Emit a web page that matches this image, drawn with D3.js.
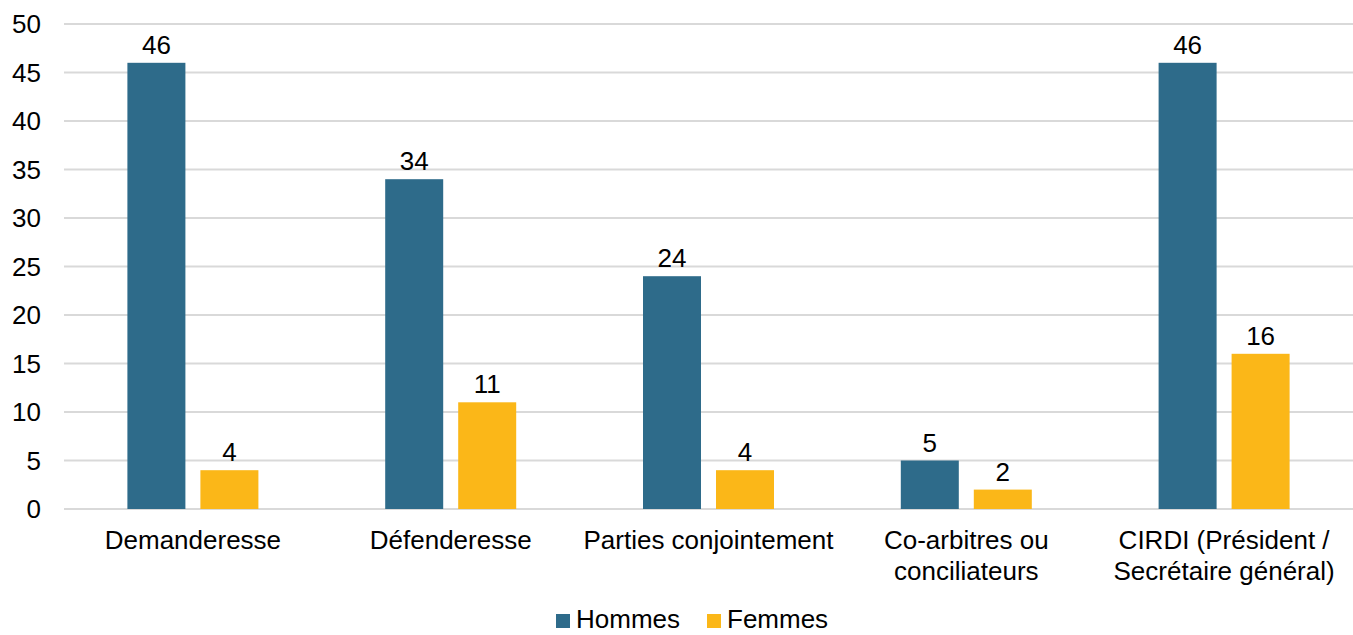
<!DOCTYPE html>
<html>
<head>
<meta charset="utf-8">
<script src="https://cdn.jsdelivr.net/npm/d3@7"></script>
<style>
	body { margin: 0; background: #fff; }
	text { font-family: "Liberation Sans", Arial, sans-serif; fill: #000; }
</style>
</head>
<body>
<div id="chart"></div>
<script>
let categories = [
	['Demanderesse'],
	['Défenderesse'],
	['Parties conjointement'],
	['Co-arbitres ou', 'conciliateurs'],
	['CIRDI (Président /', 'Secrétaire général)']
];
let seriesNames = ['Hommes', 'Femmes'];
let hommes = [46, 34, 24, 5, 46];
let femmes = [4, 11, 4, 2, 16];
let yTicks = [0, 5, 10, 15, 20, 25, 30, 35, 40, 45, 50];
let colors = ['#2e6b8a', '#fbb718'];

let width = 1353,
	height = 635;
let margin = { top: 24, right: 0, bottom: 126, left: 64 };
let fontSize = '26px';

let svg = d3.select('#chart').append('svg')
	.attr('width', width)
	.attr('height', height);

let x0 = d3.scaleBand()
	.domain(d3.range(categories.length))
	.range([margin.left, width - margin.right]);

// two bars per group, 58px wide with a 15px gap
let x1 = d3.scaleBand()
	.domain(seriesNames)
	.range([x0.bandwidth() / 2 - 65.5, x0.bandwidth() / 2 + 65.5])
	.paddingInner(15 / 73);

let y = d3.scaleLinear()
	.domain([0, 50])
	.range([height - margin.bottom, margin.top]);

// gridlines
svg.append('g')
	.selectAll('line')
	.data(yTicks)
	.enter()
	.append('line')
	.attr('x1', margin.left)
	.attr('x2', width - margin.right)
	.attr('y1', (d) => y(d))
	.attr('y2', (d) => y(d))
	.attr('stroke', '#d9d9d9')
	.attr('stroke-width', 2);

// y labels
svg.append('g')
	.selectAll('text')
	.data(yTicks)
	.enter()
	.append('text')
	.attr('x', 41)
	.attr('y', (d) => y(d))
	.attr('dy', '0.36em')
	.attr('text-anchor', 'end')
	.style('font-size', fontSize)
	.text((d) => d);

let groups = svg.append('g')
	.selectAll('g')
	.data(categories)
	.enter()
	.append('g')
	.attr('transform', (d, i) => 'translate(' + x0(i) + ',0)');

let rows = categories.map((c, i) => [
	{ key: 'Hommes', value: hommes[i] },
	{ key: 'Femmes', value: femmes[i] }
]);

groups.selectAll('rect')
	.data((d, i) => rows[i])
	.enter()
	.append('rect')
	.attr('x', (d) => x1(d.key))
	.attr('width', x1.bandwidth())
	.attr('y', (d) => y(d.value))
	.attr('height', (d) => y(0) - y(d.value))
	.attr('fill', (d, i) => colors[i]);

groups.selectAll('text.val')
	.data((d, i) => rows[i])
	.enter()
	.append('text')
	.attr('class', 'val')
	.attr('x', (d) => x1(d.key) + x1.bandwidth() / 2)
	.attr('y', (d) => y(d.value) - 9)
	.attr('text-anchor', 'middle')
	.style('font-size', fontSize)
	.text((d) => d.value);

// category labels
groups.append('text')
	.attr('x', x0.bandwidth() / 2)
	.attr('y', 549)
	.attr('text-anchor', 'middle')
	.style('font-size', fontSize)
	.selectAll('tspan')
	.data((d) => d)
	.enter()
	.append('tspan')
	.attr('x', x0.bandwidth() / 2)
	.attr('dy', (d, i) => (i == 0 ? 0 : 31))
	.text((d) => d);

// legend (kept a few px above the bottom edge so the text is not clipped)
let legend = svg.append('g');
let legendX = [556, 707];
seriesNames.forEach((name, i) => {
	legend.append('rect')
		.attr('x', legendX[i])
		.attr('y', 614)
		.attr('width', 14)
		.attr('height', 14)
		.attr('fill', colors[i]);
	legend.append('text')
		.attr('x', legendX[i] + 20)
		.attr('y', 628)
		.style('font-size', fontSize)
		.text(name);
});
</script>
</body>
</html>
